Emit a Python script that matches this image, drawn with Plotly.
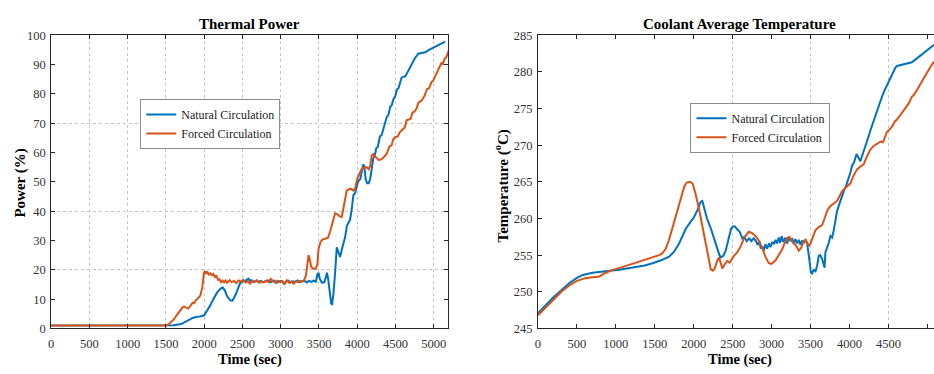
import plotly.graph_objects as go

# ---------------- data: Thermal Power (left) ----------------
p_nat_t = [0, 500, 1000, 1500, 1600, 1700, 1750, 1800, 1850, 1900, 1950, 2000, 2040, 2080, 2120, 2170,
           2210, 2240, 2270, 2300, 2340, 2370, 2410, 2440, 2470, 2500, 2540, 2580, 2600, 2620,
           2650, 2680, 2710, 2740, 2770, 2800, 2830, 2860, 2890, 2920, 2950, 2980, 3010, 3040, 3070,
           3100, 3130, 3160, 3190, 3220, 3250, 3280, 3310, 3340, 3370, 3400, 3430, 3460,
           3480, 3495, 3510, 3540, 3570, 3590, 3605, 3620, 3640, 3660, 3672, 3690, 3711, 3733, 3755,
           3776, 3800, 3820, 3841, 3865, 3885, 3906, 3930, 3950, 3970, 3990, 4015, 4040, 4060, 4080,
           4095, 4110, 4130, 4150, 4170, 4190, 4210, 4230, 4250, 4270, 4297, 4320, 4340, 4360, 4384,
           4410, 4430, 4450, 4471, 4500, 4520, 4540, 4560, 4580, 4600, 4630, 4660, 4700, 4750, 4797,
           4850, 4890, 4950, 5000, 5050, 5100, 5150]
p_nat_v = [1, 1, 1, 1, 1.1, 1.5, 2.2, 3, 3.6, 4, 4.1, 4.5, 6, 7.9, 10, 12.3,
           13.5, 14, 13, 11, 9.6, 9.5, 11.5, 13.5, 15.5, 16, 16.3, 17, 16.2, 16.5,
           15.8, 16.3, 15.9, 16.2, 15.7, 16.1, 16.4, 15.8, 16.0, 16.3, 15.6, 16.1, 16.2, 15.4, 16.0,
           16.3, 15.7, 16.1, 15.9, 16.4, 15.8, 16.0, 16.3, 15.7, 16.2, 15.9, 16.3, 16.0,
           18.5, 19, 17, 15.6, 15.8, 17.5, 19, 17, 12, 8.5, 8.3, 12, 19, 27.7, 26,
           24.4, 27, 29, 31, 35, 36, 37, 41, 45.5, 46, 48, 50.3, 51, 53, 56,
           55, 51, 49.5, 49.5, 51, 55, 58, 59, 61.5, 62, 65.5, 66, 68, 69, 72,
           73, 75.5, 76, 78, 79.5, 81.5, 82, 84, 85.5, 85.8, 86, 87.5, 89.5, 92, 93.7,
           94, 94.2, 95.2, 95.9, 96.6, 97.2, 97.8]

p_frc_t = [0, 500, 1000, 1500, 1530, 1560, 1600, 1640, 1680, 1720, 1740, 1770, 1790, 1810, 1830, 1850,
           1870, 1890, 1920, 1950, 1975, 1997, 2010, 2025, 2040, 2060, 2080, 2100, 2120, 2140, 2160,
           2180, 2200, 2220, 2240, 2260, 2280,
           2300, 2330, 2360, 2390, 2420, 2450, 2480, 2510, 2540, 2570, 2600, 2630, 2660, 2690, 2720,
           2750, 2780, 2810, 2840, 2870, 2900, 2930, 2960, 2990, 3020, 3050, 3080, 3110, 3140, 3170,
           3200, 3230, 3260, 3290, 3310, 3330, 3345, 3364, 3380, 3400, 3429, 3460, 3480, 3494, 3520,
           3545, 3580, 3620, 3645, 3668, 3690, 3711, 3740, 3770, 3798, 3820, 3845, 3863, 3890, 3920,
           3950, 3975, 4000, 4037, 4060, 4090, 4124, 4150, 4170, 4189, 4210, 4240, 4280, 4310, 4340,
           4384, 4420, 4450, 4471, 4500, 4530, 4558, 4590, 4620, 4645, 4680, 4700, 4720, 4750, 4775,
           4800, 4830, 4850, 4883, 4910, 4940, 4970, 4992, 5020, 5050, 5078, 5100, 5120, 5143, 5165, 5200]
p_frc_v = [1, 1, 1, 1, 1.3, 2, 3, 4.5, 6, 7.3, 7.5, 7.2, 6.8, 7.4, 8.3, 8.8,
           8.6, 9.6, 10.3, 11.2, 14, 18.9, 19.6, 18.6, 19.5, 18.4, 18.8, 18.2, 18.6, 17.6, 17.9,
           16.6, 16.8, 15.8, 16.3, 15.7, 16.4,
           15.6, 16.5, 15.8, 16.2, 15.5, 16.4, 16.0, 16.6, 15.7, 16.1, 15.3, 16.2, 15.9, 16.4, 15.6,
           16.0, 15.7, 16.3, 15.8, 16.9, 16.1, 15.6, 16.3, 15.8, 16.2, 15.2, 16.4, 15.6, 16.0, 15.3,
           16.1, 15.8, 16.2, 16.1, 16.8, 18, 21, 25, 23.5, 21, 20.3, 20.5, 22, 27, 29.5,
           30.3, 30.6, 31, 33, 35.4, 37.6, 39.3, 39, 38.2, 38, 41, 44, 47, 47.5, 47.6,
           47, 48, 51, 53, 54.5, 54.8, 55, 54.3, 55.5, 59, 59.5, 58.5, 57.5, 57.6, 58.2,
           59.5, 62, 62.5, 64.5, 65.3, 65.5, 67, 67.8, 68.5, 71, 71.2, 71.5, 73.5, 74, 75,
           77, 77.5, 78, 79.5, 81.5, 82, 84, 84.5, 86, 87.5, 89, 90.5, 90.2, 92, 92.5, 95]

# ---------------- data: Coolant Average Temperature (right) ----------------
t_nat_t = [0, 100, 192, 300, 404, 500, 576, 700, 832, 950, 1045, 1150, 1258, 1371, 1471, 1580, 1684,
           1750, 1812, 1860, 1898, 1950, 2005, 2050, 2090, 2110, 2133, 2170, 2218, 2260, 2304, 2330,
           2350, 2380, 2410, 2450, 2480, 2500, 2530, 2560, 2590, 2624, 2650, 2680, 2709, 2740, 2770,
           2794, 2820, 2845, 2860, 2879, 2900, 2920, 2943, 2965, 2985, 3007, 3030, 3050, 3070, 3092,
           3110, 3130, 3150, 3178, 3200, 3220, 3243, 3264, 3285, 3305, 3330, 3349, 3370, 3390, 3413,
           3435, 3455, 3477, 3492, 3505, 3520, 3540, 3563, 3585, 3605, 3625, 3648, 3670, 3680, 3691,
           3712, 3734, 3755, 3776, 3798, 3820, 3840, 3870, 3900, 3926, 3960, 3990, 4010, 4033, 4060,
           4090, 4115, 4140, 4160, 4182, 4220, 4268, 4310, 4353, 4400, 4438, 4480, 4524, 4560, 4590,
           4609, 4650, 4694, 4750, 4801, 4850, 4906, 4950, 5000, 5040, 5085]
t_nat_v = [247.1, 248.2, 249.2, 250.2, 251.2, 251.9, 252.3, 252.6, 252.8, 252.9, 253.0, 253.2, 253.4,
           253.6, 253.9, 254.3, 254.8, 255.5, 256.6, 257.7, 258.6, 259.4, 260.2, 261.2, 262.3, 262.4,
           261.4, 260.0, 258.7, 257.2, 255.9, 255.0, 254.7, 254.9, 255.6, 257.3, 258.6, 258.9, 258.9,
           258.5, 258.2, 257.3, 257.5, 256.9, 257.3, 256.9, 257.3, 257.0, 256.4, 256.9, 255.9, 256.2,
           255.6, 256.5, 255.9, 256.6, 256.1, 256.8, 256.5, 257.1, 256.6, 257.4, 256.7, 257.6, 256.8,
           257.4, 256.6, 257.5, 256.9, 257.3, 256.5, 257.2, 256.6, 257.1, 256.4, 257.0, 256.7, 257.1,
           256.7, 255.0, 253.2, 252.6, 252.5, 253.0, 252.8, 253.6, 254.9, 255.0, 254.5, 253.4, 253.3,
           255.4, 256.0, 256.7, 257.6, 257.4, 258.4, 259.8, 261.0, 262.0, 263.0, 263.7, 264.6, 265.4,
           266.2, 267.2, 267.7, 268.8, 268.2, 267.8, 268.5, 269.1, 270.4, 272.0, 273.4, 274.6, 276.1,
           277.2, 278.2, 279.0, 280.0, 280.6, 280.8, 280.9, 281.0, 281.1, 281.3, 281.7, 282.2, 282.6,
           283.0, 283.4, 283.7]

t_frc_t = [0, 100, 192, 300, 404, 500, 618, 700, 789, 850, 959, 1060, 1173, 1280, 1386, 1470, 1556,
           1600, 1641, 1680, 1720, 1769, 1810, 1850, 1880, 1910, 1950, 1984, 2020, 2068, 2110, 2154,
           2190, 2218, 2245, 2270, 2300, 2324, 2345, 2367, 2400, 2431, 2460, 2490, 2516, 2560, 2602,
           2650, 2708, 2750, 2794, 2840, 2879, 2920, 2964, 3000, 3050, 3090, 3136, 3170, 3200, 3230,
           3260, 3285, 3320, 3349, 3380, 3410, 3435, 3460, 3480, 3499, 3530, 3563, 3600, 3648, 3680,
           3712, 3745, 3776, 3810, 3840, 3870, 3904, 3950, 4011, 4050, 4097, 4140, 4182, 4230, 4268,
           4310, 4353, 4400, 4430, 4460, 4480, 4502, 4550, 4580, 4609, 4660, 4716, 4760, 4800, 4823,
           4870, 4929, 4980, 5035, 5085]
t_frc_v = [246.8, 247.9, 248.9, 250.0, 250.9, 251.5, 251.9, 252.0, 252.1, 252.5, 253.0, 253.3, 253.7,
           254.1, 254.5, 254.8, 255.0, 255.3, 255.9, 257.0, 258.5, 260.2, 261.8, 263.3, 264.4, 264.9,
           265.0, 264.8, 263.5, 261.3, 259.0, 256.5, 254.3, 253.1, 252.9, 253.2, 254.2, 254.7, 254.0,
           253.2, 253.8, 254.2, 254.0, 254.5, 254.9, 255.4, 256.2, 257.4, 258.2, 258.0, 257.6, 256.9,
           256.0, 254.8, 253.9, 253.8, 254.3, 255.0, 255.8, 256.7, 257.3, 257.5, 256.9, 256.7, 256.2,
           255.6, 256.0, 256.9, 257.1, 256.6, 256.3, 256.6, 257.6, 258.4, 258.8, 259.1, 260.0, 261.0,
           261.6, 261.9, 262.1, 262.4, 263.0, 263.7, 264.2, 264.8, 265.8, 266.7, 267.1, 267.4, 268.6,
           269.4, 269.9, 270.2, 270.5, 270.4, 271.1, 271.8, 272.0, 272.6, 273.2, 273.5, 274.2, 275.0,
           275.7, 276.6, 276.8, 277.6, 278.6, 279.6, 280.6, 281.4]

series_names = ["Natural Circulation", "Forced Circulation"]
left_hgrid = [20, 40, 70]
right_vgrid = [2500, 3500, 4500]

# ---------------- styles ----------------
W, H = 934, 374
BLUE, ORANGE = "#0072BD", "#D95319"
FONT = "Liberation Serif, Times New Roman, Times, serif"
AX = "#262626"
TXT = "#333333"
GRID = "#c4c4c4"

def px_x(v):
    return v / W

def px_y(v):
    return 1 - v / H

fig = go.Figure()
fig.add_trace(go.Scatter(x=p_nat_t, y=p_nat_v, mode="lines", name=series_names[0],
                         line=dict(color=BLUE, width=2), xaxis="x", yaxis="y", legend="legend"))
fig.add_trace(go.Scatter(x=p_frc_t, y=p_frc_v, mode="lines", name=series_names[1],
                         line=dict(color=ORANGE, width=2), xaxis="x", yaxis="y", legend="legend"))
fig.add_trace(go.Scatter(x=t_nat_t, y=t_nat_v, mode="lines", name=series_names[0],
                         line=dict(color=BLUE, width=2), xaxis="x2", yaxis="y2", legend="legend2"))
fig.add_trace(go.Scatter(x=t_frc_t, y=t_frc_v, mode="lines", name=series_names[1],
                         line=dict(color=ORANGE, width=2), xaxis="x2", yaxis="y2", legend="legend2"))

tickfont = dict(family=FONT, size=12.5, color=TXT)
common = dict(showline=True, linecolor=AX, linewidth=1, ticks="inside", ticklen=4,
              tickcolor=AX, tickfont=tickfont, zeroline=False)

y_dom = [px_y(334), px_y(29.3)]
legfont = dict(family=FONT, size=12, color="#1a1a1a")
fig.update_layout(
    width=W, height=H, margin=dict(l=0, r=0, t=0, b=0),
    paper_bgcolor="white", plot_bgcolor="white", showlegend=True,
    font=dict(family=FONT),
    xaxis=dict(domain=[px_x(48.3), px_x(446.7)], range=[0, 5190], dtick=500, tick0=0,
               mirror="ticks", showgrid=True, gridcolor=GRID, griddash="dot", gridwidth=1,
               anchor="y", ticklabelstandoff=4, **common),
    yaxis=dict(domain=y_dom, range=[0, 100], dtick=10, tick0=0, mirror="ticks",
               showgrid=False, anchor="x", ticklabelstandoff=2,
               minor=dict(tickmode="array", tickvals=left_hgrid, showgrid=True, gridcolor=GRID,
                          griddash="dot", gridwidth=1, ticks=""),
               **common),
    xaxis2=dict(domain=[px_x(536.7), 1.0], range=[0, 5085], dtick=500, tick0=0,
                mirror="ticks", showgrid=False, anchor="y2", ticklabelstandoff=4,
                minor=dict(tickmode="array", tickvals=right_vgrid, showgrid=True, gridcolor=GRID,
                           griddash="dot", gridwidth=1, ticks=""),
                **common),
    yaxis2=dict(domain=y_dom, range=[245, 285], dtick=5, tick0=245, mirror=False,
                showgrid=False, anchor="x2", ticklabelstandoff=2, **common),
    legend=dict(x=px_x(137.7), y=px_y(121.5), xanchor="left", yanchor="middle",
                bgcolor="white", bordercolor="#8c8c8c", borderwidth=1,
                font=legfont, tracegroupgap=0),
    legend2=dict(x=px_x(689.7), y=px_y(125.5), xanchor="left", yanchor="middle",
                 bgcolor="white", bordercolor="#8c8c8c", borderwidth=1,
                 font=legfont, tracegroupgap=0),
)

title_font = dict(family=FONT, size=15, color="black")
ann = [
    ("<b>Thermal Power</b>", 247.5, 18, 0, 15),
    ("<b>Coolant Average Temperature</b>", 739, 18, 0, 15),
    ("<b>Time (sec)</b>", 247.5, 366, 0, 14.5),
    ("<b>Time (sec)</b>", 739.5, 366, 0, 14.5),
    ("<b>Power (%)</b>", 18, 182.5, -90, 15),
    ("<b>Temperature (<sup>o</sup>C)</b>", 500, 186, -90, 15),
]
for text, ax_, ay_, ang, fs in ann:
    fig.add_annotation(text=text, x=px_x(ax_), y=px_y(ay_), xref="paper", yref="paper",
                       xanchor="center", yanchor="middle", showarrow=False,
                       textangle=ang, font=dict(family=FONT, size=fs, color="black"))

fig.write_html("out.html")
